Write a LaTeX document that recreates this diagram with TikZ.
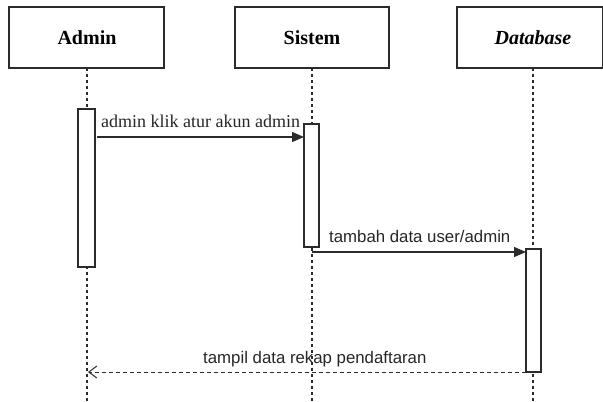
\documentclass[tikz,border=0pt]{standalone}
\usepackage{fontspec}
\setmainfont{Liberation Serif}
\newfontfamily\msgsans{Liberation Sans}
\usetikzlibrary{arrows.meta}
\definecolor{ink}{HTML}{2B2B2B}
\tikzset{
  actorbox/.style={draw=ink, line width=1.4pt, fill=white},
  lifeline/.style={draw=ink, line width=1.1pt, dash pattern=on 3pt off 3pt},
  actbar/.style={draw=ink, line width=1.2pt, fill=white},
  callmsg/.style={draw=ink, line width=1.1pt, -{Triangle[length=12pt,width=10pt]}},
  replymsg/.style={draw=ink, line width=1pt, dash pattern=on 4pt off 3pt, -{Straight Barb[length=8pt,width=12pt,line width=1pt]}},
  title/.style={font=\fontsize{20}{24}\selectfont\bfseries, text=black},
  serifmsg/.style={font=\fontsize{18}{21}\selectfont, text=black!85, anchor=base west, inner sep=0pt},
  sansmsg/.style={font=\msgsans\fontsize{16.8}{20}\selectfont, text=black!85, anchor=base west, inner sep=0pt}
}
\begin{document}
\begin{tikzpicture}[x=1pt,y=-1pt]
  \useasboundingbox (0,0) rectangle (603,402);

  % lifelines
  \coordinate (adminTop) at (87,68);   \coordinate (adminEnd) at (87,402);
  \coordinate (sisTop)   at (312,68);  \coordinate (sisEnd)   at (312,402);
  \coordinate (dbTop)    at (533,68);  \coordinate (dbEnd)    at (533,402);
  \draw[lifeline] (adminTop) -- (adminEnd);
  \draw[lifeline] (sisTop) -- (sisEnd);
  \draw[lifeline] (dbTop) -- (dbEnd);

  % actor boxes
  \draw[actorbox] (9,7) rectangle (164,68);
  \draw[actorbox] (235,7) rectangle (389,68);
  \draw[actorbox] (457,7) rectangle (602.3,68);
  \node[title] (admin) at (87,38) {Admin};
  \node[title] (sistem) at (312,38) {Sistem};
  \node[title, font=\fontsize{20}{24}\selectfont\bfseries\itshape] (database) at (533,38) {Database};

  % activation bars
  \draw[actbar] (78,109) rectangle (95,267);
  \draw[actbar] (304,124) rectangle (319,247);
  \draw[actbar] (526,249) rectangle (541,372);

  % messages
  \coordinate (m1s) at (97,137);  \coordinate (m1e) at (304,137);
  \draw[callmsg] (m1s) -- (m1e);
  \node[serifmsg] (m1label) at (101,127) {admin klik atur akun admin};

  \coordinate (m2s) at (312,252); \coordinate (m2e) at (526,252);
  \draw[callmsg] (m2s) -- (m2e);
  \node[sansmsg] (m2label) at (329,242) {tambah data user/admin};

  \coordinate (m3s) at (526,372); \coordinate (m3e) at (88,372);
  \draw[replymsg] (m3s) -- (m3e);
  \node[sansmsg] (m3label) at (203,363) {tampil data rekap pendaftaran};
\end{tikzpicture}
\end{document}
